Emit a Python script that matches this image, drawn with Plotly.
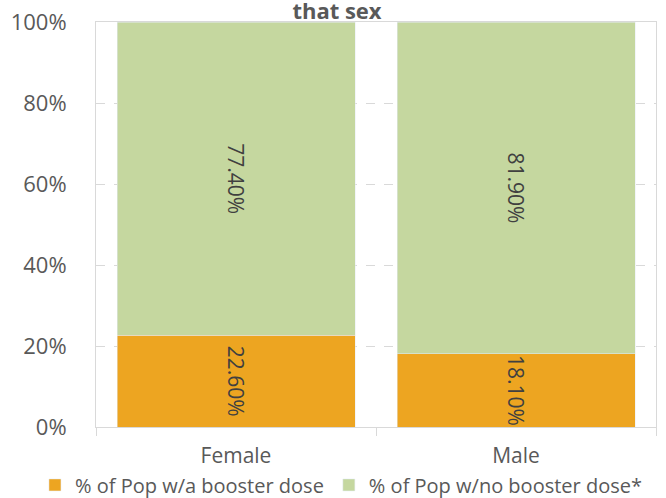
import plotly.graph_objects as go

categories = ["Female", "Male"]
booster = [22.6, 18.1]
no_booster = [77.4, 81.9]
series_names = ["% of Pop w/a booster dose", "% of Pop w/no booster dose*"]
y_ticks = [0, 20, 40, 60, 80, 100]
y_tick_labels = ["0%", "20%", "40%", "60%", "80%", "100%"]
title_text = "that sex"

font_family = "Open Sans, Noto Sans, sans-serif"
text_color = "#404040"

fig = go.Figure()
fig.add_trace(go.Bar(
    x=categories, y=booster, name=series_names[0],
    marker_color="#EDA521",
    text=[f"{v:.2f}%" for v in booster], textposition="inside",
    insidetextanchor="middle", textangle=90,
    textfont=dict(color=text_color, size=21, family=font_family),
))
fig.add_trace(go.Bar(
    x=categories, y=no_booster, name=series_names[1],
    marker_color="#C5D79F",
    text=[f"{v:.2f}%" for v in no_booster], textposition="inside",
    insidetextanchor="middle", textangle=90,
    textfont=dict(color=text_color, size=21, family=font_family),
))

fig.update_layout(
    barmode="stack",
    width=666, height=498,
    margin=dict(l=96, r=10, t=22, b=71, autoexpand=False),
    paper_bgcolor="white", plot_bgcolor="white",
    font=dict(family=font_family, color="#595959"),
    uniformtext=dict(minsize=21, mode="show"),
    title=dict(text="<b>" + title_text + "</b>", x=0.506, xanchor="center",
               y=0.978, yanchor="middle",
               font=dict(size=22, color="#595959", family=font_family)),
    showlegend=True,
    legend=dict(orientation="h", x=-0.109, xanchor="left",
                y=-0.143, yanchor="middle", traceorder="normal",
                font=dict(size=20, color="#595959", family=font_family)),
    bargap=0.15,
)
fig.update_xaxes(
    showline=True, linecolor="#d9d9d9", linewidth=1, mirror=True,
    ticks="outside", tickson="boundaries", ticklen=8, tickcolor="#d9d9d9",
    tickfont=dict(size=21, color="#595959"), showgrid=False, tickangle=0,
    ticklabelstandoff=10,
)
fig.update_yaxes(
    range=[0, 100], tickvals=y_ticks, ticktext=y_tick_labels,
    showline=True, linecolor="#d9d9d9", mirror=True,
    showgrid=True, gridcolor="#d9d9d9", griddash="dash", gridwidth=1,
    ticks="outside", ticklen=24, tickcolor="rgba(0,0,0,0)",
    tickfont=dict(size=22, color="#595959"),
    zeroline=False,
)

fig.write_html("out.html", config={"displayModeBar": False},
               post_script="document.body.style.margin='0';")
